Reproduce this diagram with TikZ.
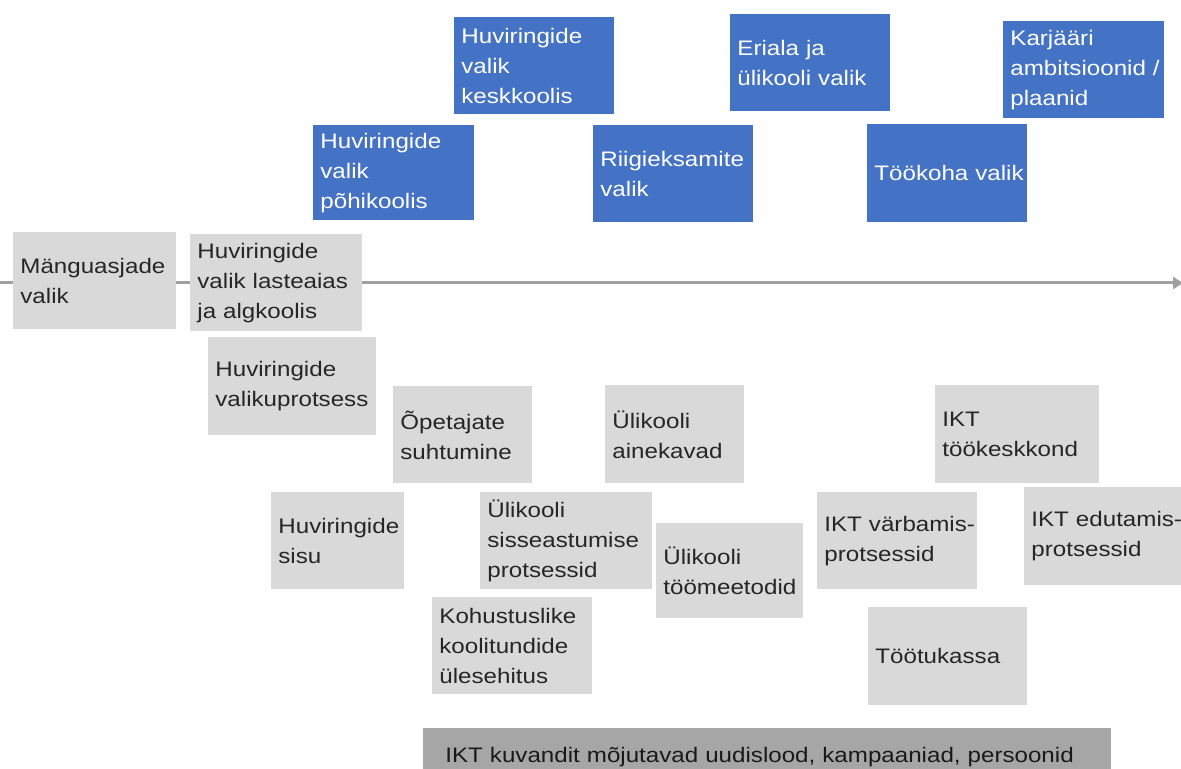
\documentclass[tikz,border=0pt]{standalone}
\usepackage{fontspec}
\setmainfont{Liberation Sans}[FakeStretch=1.15]
\usetikzlibrary{arrows.meta}
\hyphenpenalty=10000
\exhyphenpenalty=10000
\definecolor{kastsinine}{HTML}{4472C4}
\definecolor{kasthall}{HTML}{D9D9D9}
\definecolor{tumehall}{HTML}{A6A6A6}
\definecolor{joonhall}{HTML}{A0A0A0}
\definecolor{tekst}{HTML}{262626}
\tikzset{
  kast/.style 2 args={anchor=north west, minimum width=#1*0.5pt, minimum height=#2*0.5pt,
    text width=#1*0.5pt-7pt, inner xsep=3.5pt, inner ysep=0pt, align=left,
    font=\fontsize{10.5}{15}\selectfont},
  valik/.style={fill=kastsinine, text=white},
  mojur/.style={fill=kasthall, text=tekst},
  meedia/.style={fill=tumehall, text=black!90}
}
\begin{document}
\begin{tikzpicture}[x=0.5pt,y=-0.5pt,>={Triangle[length=5pt,width=6pt]}]
\useasboundingbox (0,0) rectangle (1181,769);
\coordinate (algus) at (-2,283);
\coordinate (lopp) at (1183,283);
\draw[->, line width=1.5pt, joonhall](algus)--(lopp);

\node[kast={161}{95}, valik] (pohikool) at (313,125) {Huviringide\\valik\\põhikoolis};
\node[kast={160}{97}, valik] (keskkool) at (454,17) {Huviringide\\valik\\keskkoolis};
\node[kast={160}{97}, valik] (riigieksam) at (593,125) {Riigieksamite\\valik};
\node[kast={160}{97}, valik] (eriala) at (730,14) {Eriala~ja\\ülikooli~valik};
\node[kast={160}{98}, valik] (tookoht) at (867,124) {Töökoha~valik};
\node[kast={161}{97}, valik] (karjaar) at (1003,21) {Karjääri\\ambitsioonid~/\\plaanid};

\node[kast={163}{97}, mojur] (manguasjad) at (13,232) {Mänguasjade\\valik};
\node[kast={172}{97}, mojur] (lasteaed) at (190,234) {Huviringide\\valik~lasteaias\\ja~algkoolis};
\node[kast={168}{98}, mojur] (valikuprotsess) at (208,337) {Huviringide\\valikuprotsess};
\node[kast={139}{97}, mojur] (opetajad) at (393,386) {Õpetajate\\suhtumine};
\node[kast={139}{98}, mojur] (ainekavad) at (605,385) {Ülikooli\\ainekavad};
\node[kast={164}{98}, mojur] (tookeskkond) at (935,385) {IKT\\töökeskkond};
\node[kast={133}{97}, mojur] (sisu) at (271,492) {Huviringide\\sisu};
\node[kast={172}{97}, mojur] (sisseastumine) at (480,492) {Ülikooli\\sisseastumise\\protsessid};
\node[kast={147}{95}, mojur] (toomeetodid) at (656,523) {Ülikooli\\töömeetodid};
\node[kast={160}{97}, mojur] (varbamine) at (817,492) {IKT~värbamis-\\protsessid};
\node[kast={166}{98}, mojur] (edutamine) at (1024,487) {IKT~edutamis-\\protsessid};
\node[kast={160}{97}, mojur] (koolitunnid) at (432,597) {Kohustuslike\\koolitundide\\ülesehitus};
\node[kast={159}{98}, mojur] (tootukassa) at (868,607) {Töötukassa};

\node[kast={688}{58}, meedia, inner xsep=11pt, text width=322pt] (kuvand) at (423,728) {IKT~kuvandit~mõjutavad~uudislood,~kampaaniad,~persoonid};
\end{tikzpicture}
\end{document}
